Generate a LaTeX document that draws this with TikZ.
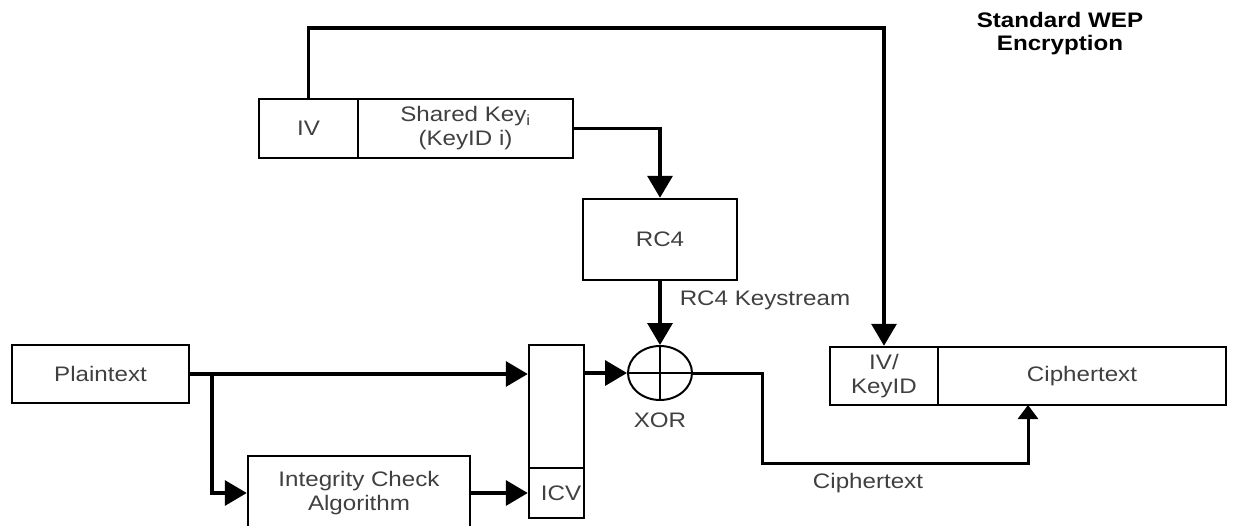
\documentclass[tikz,border=0pt]{standalone}
\usepackage{fontspec}
\setmainfont{Liberation Sans}[FakeStretch=1.15]
\usetikzlibrary{arrows.meta,shapes.geometric}
\tikzset{
  box/.style={draw=black,line width=2.5pt,inner sep=0pt,align=center,
    text=black!75,font=\fontsize{21}{24}\selectfont},
  lbl/.style={inner sep=0pt,align=center,text=black!75,font=\fontsize{21}{24}\selectfont},
  conn/.style={draw=black,line width=3.5pt,line join=miter},
  bigtip/.style={-{Triangle[length=22pt,width=25pt]}},
  smalltip/.style={-{Triangle[length=14pt,width=20pt]}},
}
\begin{document}
\begin{tikzpicture}[x=1pt,y=-1pt]
\useasboundingbox[fill=white] (0,0) rectangle (1237,525);

% title
\node[lbl,text=black,font=\fontsize{21}{23}\selectfont\bfseries] (title) at (1060,34) {Standard WEP\\Encryption};

% key boxes
\node[box,minimum width=99pt,minimum height=59pt] (iv) at (308.5,128.5) {IV};
\node[box,minimum width=215pt,minimum height=59pt] (sk) at (465.5,128.5) {Shared Key\textsubscript{i}\\(KeyID i)};

% RC4
\node[box,minimum width=154pt,minimum height=81pt] (rc4) at (660,239.5) {RC4};
\node[lbl] (ks) at (765,300) {RC4 Keystream};

% XOR
\node[draw=black,line width=2pt,ellipse,minimum width=64pt,minimum height=54pt,inner sep=0pt] (xor) at (660,373) {};
\draw[line width=2pt] (xor.north) -- (xor.south);
\draw[line width=2pt] (xor.west) -- (xor.east);
\node[lbl] (xorl) at (660,420) {XOR};

% plaintext
\node[box,minimum width=177pt,minimum height=58pt] (pt) at (100.5,374) {Plaintext};

% message + ICV
\node[box,minimum width=55pt,minimum height=173pt] (msg) at (556.5,431.5) {};
\node[box,minimum width=55pt,minimum height=50pt] (icv) at (556.5,493) {};
\node[lbl] (icvl) at (561,493) {ICV};

% integrity check
\node[box,minimum width=222pt,minimum height=74pt] (ica) at (359,493) {Integrity Check\\Algorithm};

% output
\node[box,minimum width=108pt,minimum height=58pt] (ivk) at (884,376) {IV/\\KeyID};
\node[box,minimum width=288pt,minimum height=58pt] (ct) at (1082,376) {Ciphertext};
\node[lbl] (ctl) at (868,483) {Ciphertext};

% connectors
\coordinate (topy) at (0,28);
\draw[conn,bigtip] (iv.north) -- (iv.north |- topy) -- (ivk.north |- topy) -- (ivk.north);
\draw[conn,bigtip] (sk.east) -| (rc4.north);
\draw[conn,bigtip] (rc4.south) -- (xor.north);
\draw[conn,bigtip] (pt.east) -- (msg.west |- pt.east);
\coordinate (br) at (212,374);
\draw[conn,bigtip] (br) |- (ica.west);
\draw[conn,bigtip] (ica.east) -- (icv.west);
\draw[conn,bigtip] (msg.east |- xor.west) -- (xor.west);
\coordinate (c1) at (762,463);
\coordinate (ctin) at (1028,405);
\draw[conn,line width=3pt,smalltip] (xor.east) -| (c1) -| (ctin);
\end{tikzpicture}
\end{document}
